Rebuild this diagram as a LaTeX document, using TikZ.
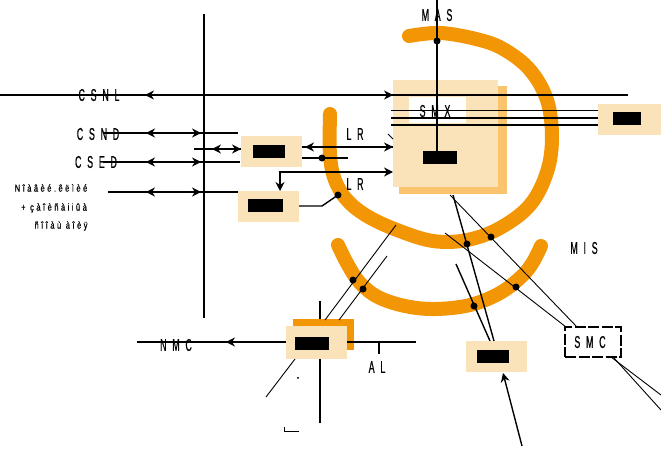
\documentclass[tikz,border=0pt]{standalone}
\usepackage{fontspec}
\usetikzlibrary{arrows.meta}
\newfontfamily\labfont[FakeStretch=0.52,LetterSpace=34,FakeBold=0.6]{Liberation Sans}
\newfontfamily\smallfont[FakeStretch=0.75,LetterSpace=25,FakeBold=0.6]{Liberation Sans}
\definecolor{orng}{RGB}{243,150,5}
\definecolor{beige}{RGB}{250,226,185}
\definecolor{shad}{RGB}{250,195,110}
\begin{document}
\begin{tikzpicture}[x=1pt,y=-1pt,
  lab/.style={font={\labfont\fontsize{17pt}{17pt}\selectfont},inner sep=0pt},
  sml/.style={font={\smallfont\fontsize{10pt}{10pt}\selectfont},inner sep=0pt},
  mainline/.style={line width=1.9pt},
  midline/.style={line width=1.4pt},
  thinline/.style={line width=0.9pt},
  tip/.style={-{Stealth[length=9pt,width=9pt,inset=3pt]}},
  band/.style={draw=orng,line width=14pt,line cap=round},
  dot/.style={circle,fill=black,inner sep=0pt,minimum size=7pt},
  bx/.style={fill=beige,draw=none,inner sep=0pt},
  blk/.style={fill=black,draw=none,inner sep=0pt},
  obx/.style={fill=orng,draw=none,inner sep=0pt},
  sbx/.style={fill=shad,draw=none,inner sep=0pt},
  wbx/.style={fill=white,draw=none,inner sep=0pt},
  dbx/.style={draw=black,line width=1.6pt,dash pattern=on 11pt off 2.5pt,inner sep=0pt}
]
\useasboundingbox[fill=white] (0,0) rectangle (661,474);

% orange bands
\draw[band] plot[smooth,tension=0.6] coordinates {(409,36) (441,33) (480,40) (505,50) (530,70) (547,100) (552,137) (547,172) (530,205) (500,228) (467,240) (433,241) (397,230) (367,216) (347,200) (335,180) (330,155) (330,114)};
\draw[band] plot[smooth,tension=0.6] coordinates {(338,245) (348,265) (360,283) (378,297) (405,306) (435,309) (470,305) (500,293) (522,276) (533,262) (541,246)};

% SMX box
\node[sbx,minimum width=108pt,minimum height=108pt] (smxs) at (453,140) {};
\node[bx,minimum width=105pt,minimum height=107pt] (smx) at (445.5,133.5) {};
\node[wbx,minimum width=57pt,minimum height=26pt] (smxw) at (437.5,110) {};

% vertical line behind NMC box and its orange back
\coordinate (v2t) at (320,301);
\coordinate (v2b) at (320,423);
\draw[mainline] (v2t) -- (v2b);
\node[obx,minimum width=61pt,minimum height=31pt] (b4o) at (323.5,334.5) {};

% coordinates
\coordinate (vt) at (204,14);
\coordinate (vb) at (204,318);
\coordinate (l0a) at (0,95);
\coordinate (l0b) at (628,95);
\coordinate (masT) at (437,0);
\coordinate (masB) at (437,151);

% main vertical
\draw[mainline] (vt) -- (vb);
% CSNL line
\draw[mainline] (l0a) -- (l0b);
\draw[mainline,tip] (160,95) -- (145,95);
\draw[mainline,tip] (380,95) -- (393,95);
% CSND
\draw[mainline] (103,133) -- (238,133);
\draw[mainline,tip] (160,133) -- (146,133);
\draw[mainline,tip] (188,133) -- (201,133);
% row 149
\draw[mainline] (194,149) -- (241,149);
\draw[mainline,tip] (225,149) -- (212,149);
\draw[mainline,tip] (230,149) -- (241,149);
% CSED
\draw[mainline] (103,162) -- (240,162);
\draw[mainline,tip] (160,162) -- (146,162);
\draw[mainline,tip] (188,162) -- (201,162);
% row 192
\draw[mainline] (108,192) -- (238,192);
\draw[mainline,tip] (160,192) -- (146,192);
\draw[mainline,tip] (188,192) -- (201,192);
% box1 -> SMX (LR)
\draw[mainline] (302,147) -- (393,147);
\draw[mainline,tip] (318,147) -- (305,147);
\draw[mainline,tip] (380,147) -- (393,147);
\draw[mainline] (302,158) -- (348,158);
% L arrow
\draw[mainline,{Stealth[length=9pt,width=9pt,inset=3pt]}-{Stealth[length=9pt,width=9pt,inset=3pt]}] (280,191) -- (280,172) -- (393,172);
% box2 connector
\draw[midline] (299,206) -- (322,206) -- (338,195);
% MAS vertical
\draw[mainline] (masT) -- (masB);
% three lines to right box
\draw[mainline] (391,110.5) -- (598,110.5);
\draw[mainline] (391,118) -- (598,118);
\draw[mainline] (391,125) -- (598,125);
\draw[thinline] (388,134) -- (393,139);
% lines down-right from SMX
\draw[thinline] (450,195) -- (577,327);
\draw[midline] (453,195) -- (494,341);
\draw[thinline] (445,233) -- (566,327);
\draw[midline] (456,264) -- (490,341);
% lines to NMC box
\draw[thinline] (396,225) -- (325,320);
\draw[thinline] (387,256) -- (339,320);
% NMC line
\draw[mainline] (137,342) -- (416,342);
\draw[mainline,tip] (240,342) -- (226,342);
\draw[mainline] (379,342) -- (379,354);
\draw[thinline] (295,359) -- (266,397);
\draw[thinline] (284,427) -- (284,431) -- (299,431);
% box3 bottom
\draw[midline,tip] (522,446) -- (503,373);
% SMC lines
\draw[thinline] (611,357) -- (661,395);
\draw[thinline] (614,358) -- (661,410);

% boxes
\node[bx,minimum width=61pt,minimum height=31pt] (b1) at (271.5,151.5) {};
\node[blk,minimum width=32pt,minimum height=13pt] (b1k) at (269,151.5) {};
\node[bx,minimum width=61pt,minimum height=31pt] (b2) at (268.5,206.5) {};
\node[blk,minimum width=35pt,minimum height=13pt] (b2k) at (265.5,205.5) {};
\node[bx,minimum width=63pt,minimum height=31pt] (b5) at (629.5,119.5) {};
\node[blk,minimum width=28pt,minimum height=13pt] (b5k) at (627,118.5) {};
\node[blk,minimum width=34pt,minimum height=13pt] (smxk) at (440,157.5) {};
\node[bx,minimum width=61pt,minimum height=33pt] (b4) at (316.5,342.5) {};
\node[blk,minimum width=34pt,minimum height=13pt] (b4k) at (312,343.5) {};
\node[bx,minimum width=61pt,minimum height=31pt] (b3) at (496.5,356.5) {};
\node[blk,minimum width=32pt,minimum height=13pt] (b3k) at (493,356.5) {};
\node[dbx,minimum width=56pt,minimum height=30pt] (smc) at (593,342) {};

% dots
\node[dot] (d1) at (322,158) {};
\node[dot] (d2) at (338,195) {};
\node[dot] (d3) at (437,41) {};
\node[dot] (d4) at (491,237) {};
\node[dot] (d5) at (467,244) {};
\node[dot] (d6) at (516,287) {};
\node[dot] (d7) at (474,306) {};
\node[dot] (d8) at (353,280) {};
\node[dot] (d9) at (363,289) {};

% labels
\node[lab] (tcsnl) at (99,95) {CSNL};
\node[lab] (tcsnd) at (98,134) {CSND};
\node[lab] (tcsed) at (96,162) {CSED};
\node[lab] (tlr1) at (355,134) {LR};
\node[lab] (tlr2) at (355,184) {LR};
\node[lab] (tmas) at (437,15) {MAS};
\node[lab] (tsmx) at (435,111) {SMX};
\node[lab] (tmis) at (584,248) {MIS};
\node[lab] (tsmc) at (590,342) {SMC};
\node[lab] (tnmc) at (176,345) {NMC};
\node[lab] (tal) at (377,367) {AL};
\node[sml] (ts1) at (51,188) {Nîàâèé.êëìèé};
\node[sml] (ts2) at (54,208) {+ çàîèñàiiûà};
\node[sml] (ts3) at (61,226) {ñîîàù àîèÿ};
\node[sml] (tdash) at (298,379) {-};
\end{tikzpicture}
\end{document}
